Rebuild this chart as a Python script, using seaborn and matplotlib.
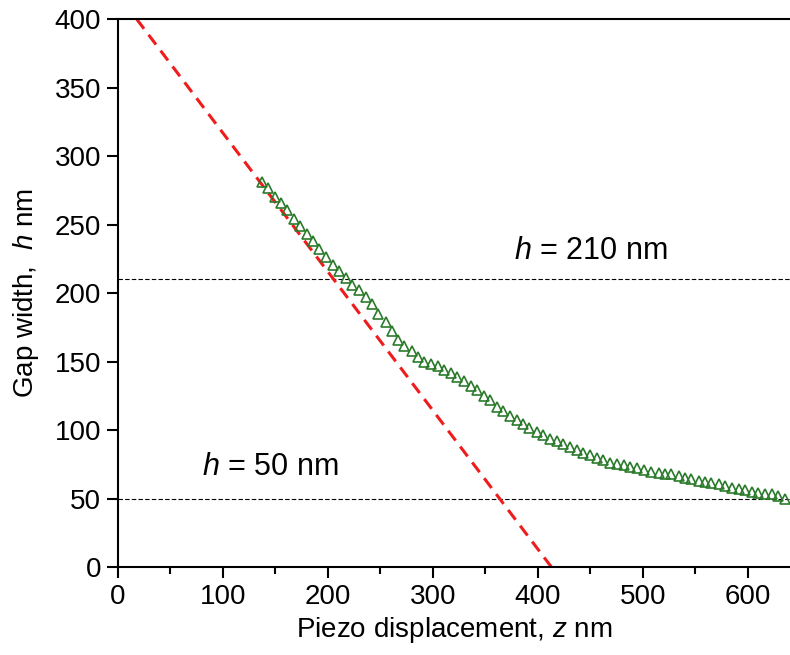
import numpy as np
import pandas as pd
import matplotlib
matplotlib.use('Agg')
import matplotlib.pyplot as plt
import seaborn as sns

z_data = [137, 143.5, 149.5, 155.5, 161.5, 167.5, 174, 180, 186, 192, 198.5, 205, 211,
          217.5, 223.5, 230, 236, 242, 248,
          255, 261, 267, 273, 280, 286, 292, 298, 305, 311, 317, 323, 330, 336, 342, 349,
          354, 361, 367, 373, 380, 386, 392, 399, 405, 412, 418, 424, 431, 437, 443, 450,
          456, 462, 469, 475, 482, 488, 494, 501,
          508, 515, 521, 527, 534, 540, 546, 553, 559, 565, 572, 578, 585, 591, 597, 604,
          610, 616, 623, 629, 635]
h_data = [281, 276.6, 270, 266, 261, 254, 249, 243, 238, 232, 226.6, 220.5, 216,
          211, 206, 202, 197, 192, 185,
          178.7, 172, 166, 161.7, 157.6, 153.7, 150, 148.4, 146.7, 144, 141.6, 138.7, 135.7,
          131.9, 129, 124.6, 121.7, 116.8, 113.7, 110.7, 107.6, 104.7, 101.8, 98.6, 96.2,
          93.8, 92, 89.6, 87.7, 85.2, 83.3, 81.6, 79.9, 78, 76.3, 75.5, 74.3, 73, 72.3, 70.9,
          69.5, 69, 68.3, 67.8, 66.3, 65.4, 64.1, 62.9, 62.1, 61.4, 60.5, 59.2, 58, 57.3,
          56.1, 54.9, 54.1, 53.7, 53.2, 52, 50]

# linear (hard contact) fit line
z_fit = [18, 413]
h_fit = [400, 0]

# reference gap widths
h_refs = [210, 50]
ref_labels = ['$h$ = 210 nm', '$h$ = 50 nm']

sns.set_style('ticks')
plt.rcParams['font.family'] = ['Liberation Sans', 'DejaVu Sans']
plt.rcParams['mathtext.fontset'] = 'custom'
plt.rcParams['mathtext.rm'] = 'Liberation Sans'
plt.rcParams['mathtext.it'] = 'Liberation Sans:italic'
plt.rcParams['text.color'] = 'black'
plt.rcParams['axes.labelcolor'] = 'black'
plt.rcParams['xtick.color'] = 'black'
plt.rcParams['ytick.color'] = 'black'

df = pd.DataFrame({'z': z_data, 'h': h_data})
fit = pd.DataFrame({'z': z_fit, 'h': h_fit})

fig = plt.figure(figsize=(7.9, 6.55), dpi=100)
ax = fig.add_axes([0.149, 0.134, 0.851, 0.837])

for h in h_refs:
    ax.axhline(h, color='black', lw=0.8, ls=(0, (4, 2)), zorder=1)

sns.lineplot(data=fit, x='z', y='h', ax=ax, color='#ee1c1c', lw=2.2,
             dashes=False, linestyle=(0, (4, 2.5)), zorder=2)
ax.plot(df['z'], df['h'], ls='none', marker='^', markersize=6.5,
        markerfacecolor='none', markeredgecolor='#2b7a2b', markeredgewidth=1.2, zorder=3)

ax.text(377, 231, ref_labels[0], fontsize=22, va='center')
ax.text(80, 73, ref_labels[1], fontsize=22, va='center')

ax.set_xlim(0, 640)
ax.set_ylim(0, 400)
ax.set_xticks(np.arange(0, 601, 100))
ax.set_xticks(np.arange(50, 640, 100), minor=True)
ax.set_yticks(np.arange(0, 401, 50))
ax.tick_params(axis='both', which='major', labelsize=20, length=8, width=1.5, direction='out', pad=4)
ax.tick_params(axis='x', which='minor', length=5, width=1.5, direction='out')

ax.set_xlabel('Piezo displacement, $z$ nm', fontsize=20, labelpad=4)
ax.set_ylabel('Gap width,  $h$ nm', fontsize=20, labelpad=10)

for s in ['left', 'bottom', 'top']:
    ax.spines[s].set_linewidth(1.5)
    ax.spines[s].set_color('black')
ax.spines['right'].set_visible(False)

fig.savefig('out.png', dpi=100)
